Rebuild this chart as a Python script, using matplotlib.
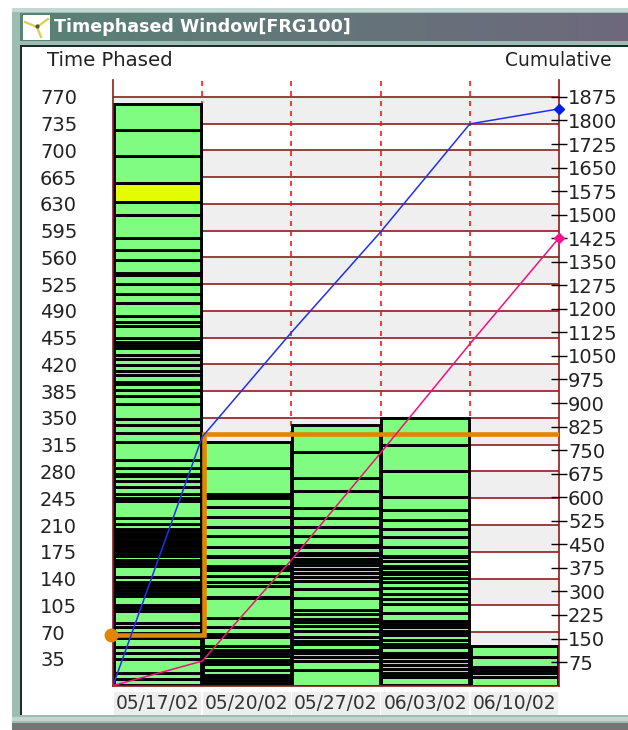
import numpy as np
import matplotlib
matplotlib.use("Agg")
import matplotlib.pyplot as plt
from matplotlib.patches import Rectangle

plt.rcParams['font.family'] = ['DejaVu Sans']

W = 628
H = 730

dates = ["05/17/02", "05/20/02", "05/27/02", "06/03/02", "06/10/02"]
left_ticks = list(range(35, 771, 35))
right_ticks = list(range(75, 1876, 75))

# top of every stacked job in each week
week1 = [1, 9, 16, 35, 43, 50, 62, 69, 77, 82, 98, 101, 105, 117, 121, 125, 129, 133, 136, 142,
         156, 160, 164, 170, 172, 176, 179, 182, 185, 188, 191, 194, 197, 200, 203, 205, 211, 219,
         242, 245, 251, 260, 268, 274, 277, 285, 295, 319, 331, 341, 349, 368, 379, 387, 394, 397,
         406, 412, 419, 427, 433, 442, 445, 449, 455, 470, 476, 483, 500, 512, 525, 537, 540, 557,
         570, 586, 616, 632, 657, 692, 727, 761]
week2 = [3, 7, 11, 14, 20, 28, 32, 34, 39, 43, 47, 52, 64, 67, 77, 89, 114, 116, 130, 136, 143,
         151, 154, 157, 168, 170, 181, 195, 208, 220, 233, 245, 248, 251, 285, 319]
week3 = [21, 32, 38, 43, 47, 54, 58, 64, 72, 78, 83, 87, 94, 99, 115, 126, 137, 142, 147, 153,
         158, 162, 165, 171, 173, 181, 184, 196, 207, 219, 232, 255, 272, 306, 341]
week4 = [1, 11, 14, 17, 22, 27, 32, 37, 40, 43, 50, 55, 60, 66, 67, 72, 77, 80, 85, 95, 107, 113,
         120, 128, 135, 141, 146, 148, 154, 157, 163, 168, 170, 181, 194, 205, 217, 230, 247,
         280, 315, 350]
week5 = [11, 16, 20, 24, 37, 52]
weeks = [week1, week2, week3, week4, week5]
yellow_job = (0, 657)  # week index, job top

# cumulative lines, one point per week boundary
boundaries = [0, 1, 2, 3, 4, 5]
blue_cum = [0, 792, 1125, 1445, 1789, 1837]
pink_cum = [0, 78, 400, 741, 1088, 1426]
# capacity step on the left axis
cap_x = [-0.02, 1.02, 1.02, 5]
cap_y = [66, 66, 329, 329]

fig = plt.figure(figsize=(W / 100, H / 100), dpi=100, facecolor='white')

# window chrome, pixel coordinates
bg = fig.add_axes([0, 0, 1, 1], zorder=0)
bg.set_xlim(0, W)
bg.set_ylim(H, 0)
bg.axis('off')
bg.add_patch(Rectangle((12, 8), W - 12, 716, fc='#9dbdb3', ec='none'))
bg.add_patch(Rectangle((12, 8), W - 12, 4, fc='#c3d8d2', ec='none'))
bg.add_patch(Rectangle((12, 717), W - 12, 4, fc='#c0d6cf', ec='none'))
bg.add_patch(Rectangle((12, 723), W - 12, 7, fc='#757575', ec='none'))
bg.add_patch(Rectangle((20, 45), W - 20, 670, fc='#1c2c28', ec='none'))
bg.add_patch(Rectangle((22, 47), W - 22, 668, fc='white', ec='none'))
grad = np.linspace(0, 1, 256).reshape(1, -1, 1)
start = np.array([0.35, 0.51, 0.46]).reshape(1, 1, 3)
end = np.array([0.43, 0.41, 0.49]).reshape(1, 1, 3)
bg.imshow(start + (end - start) * grad, extent=(20, W, 41, 13), aspect='auto', zorder=1)
bg.set_xlim(0, W)
bg.set_ylim(H, 0)
bg.add_patch(Rectangle((23, 15), 27, 25, fc='white', ec='none', zorder=2))
for px, py in [(25, 22), (48, 19), (41, 37)]:
    bg.plot([37, px], [27, py], color='#d6cf50', lw=1.6, zorder=3)
bg.plot([37], [26], 'o', color='#555533', ms=2, zorder=4)
bg.text(54, 27.5, "Timephased Window[FRG100]", color='white', fontweight='bold', fontsize=12.6,
        va='center', ha='left', zorder=3)
bg.text(47, 60, "Time Phased", color='#222222', fontsize=14.2, va='center', ha='left')
bg.text(612, 60, "Cumulative", color='#222222', fontsize=13.4, va='center', ha='right')

# chart
ax = fig.add_axes([113 / W, (H - 685.6) / H, 446 / W, 605.6 / H], zorder=2)
ax.patch.set_alpha(0)
ax.set_xlim(0, 5)
ax.set_ylim(0, 792)

for lo in range(35, 771, 70):
    ax.axhspan(lo, lo + 35, color='#efefef', lw=0, zorder=0)
ax.hlines(left_ticks, 0, 5, color='#8b1c1c', lw=1.2, zorder=1)
ax.vlines(boundaries[1:-1], 0, 792, color='#ff1414', lw=1.2, linestyles=(0, (3, 3)), zorder=1.5)

for i, tops in enumerate(weeks):
    tops = np.array(tops)
    bottoms = np.concatenate([[0], tops[:-1]])
    colors = ['#80fc80'] * len(tops)
    if i == yellow_job[0]:
        colors[list(tops).index(yellow_job[1])] = '#e4fc00'
    ax.bar(i + 0.5, tops - bottoms, bottom=bottoms, width=0.98, color=colors,
           edgecolor='black', linewidth=2.1, zorder=2)

ax.plot(cap_x, cap_y, color='#e08600', lw=3.3, solid_joinstyle='miter', zorder=3)
ax.plot(cap_x[0], cap_y[0], 'o', color='#e08600', ms=9, clip_on=False, zorder=3)

for s in ['left', 'right', 'bottom']:
    ax.spines[s].set_color('#8b1c1c')
    ax.spines[s].set_linewidth(1.2)
ax.spines['top'].set_visible(False)

ax.set_yticks(left_ticks)
ax.set_yticklabels(left_ticks, fontsize=14, color='#222222')
ax.tick_params(axis='y', length=0, pad=52.5)
for t in ax.get_yticklabels():
    t.set_ha('left')

ax.set_xticks([0.5, 1.5, 2.5, 3.5, 4.5])
ax.set_xticklabels(dates, fontsize=13.4, color='#333333')
ax.tick_params(axis='x', length=0, pad=6)
for t in ax.get_xticklabels():
    t.set_bbox(dict(facecolor='#eeeeee', edgecolor='none', pad=1.5))

rax = ax.twinx()
rax.set_zorder(3)
rax.set_ylim(0, 792 * 2.4355)
rax.set_yticks(right_ticks)
rax.set_yticklabels(right_ticks, fontsize=14, color='#222222')
rax.tick_params(axis='y', direction='inout', length=12, width=1, color='black', pad=0.5)
for s in rax.spines.values():
    s.set_visible(False)

rax.plot(boundaries, blue_cum, color='#2030f0', lw=1.1)
rax.plot(boundaries, pink_cum, color='#f0107f', lw=1.1)
rax.plot(boundaries[-1], blue_cum[-1], 'D', color='#0020f0', ms=5.5, clip_on=False)
rax.plot(boundaries[-1], pink_cum[-1], 'D', color='#ff1090', ms=5.5, clip_on=False)

fig.savefig("out.png", dpi=100)
